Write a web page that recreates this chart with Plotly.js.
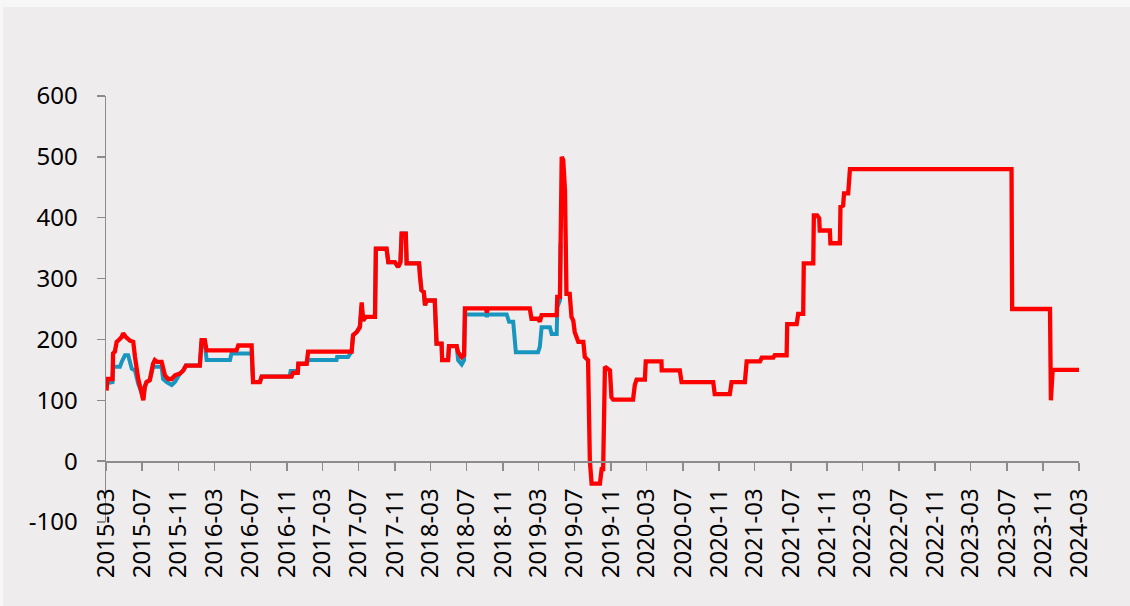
<!DOCTYPE html>
<html>
<head>
<meta charset="utf-8">
<script src="https://cdn.plot.ly/plotly-3.0.1.min.js"></script>
<style>
  html, body { margin: 0; padding: 0; background: #f7f7f7; width: 1130px; height: 606px; overflow: hidden; }
  #chart { position: absolute; left: 3px; top: 7px; width: 1127px; height: 599px; }
</style>
</head>
<body>
<div id="chart"></div>
<script>
// Red series (change points)
const redDates = [
  "2015-03-03","2015-03-05","2015-03-23","2015-03-25","2015-03-31","2015-04-06","2015-04-11","2015-04-23","2015-04-28","2015-05-07",
  "2015-05-21","2015-06-01","2015-06-07","2015-06-18","2015-06-29","2015-07-05","2015-07-10","2015-07-16","2015-07-27","2015-08-02",
  "2015-08-07","2015-08-13","2015-08-21","2015-09-05","2015-09-10","2015-09-16","2015-09-27","2015-10-09","2015-10-20","2015-11-06",
  "2015-11-17","2015-11-26","2016-01-12","2016-01-18","2016-01-29","2016-02-04","2016-05-15","2016-05-21","2016-07-05","2016-07-10",
  "2016-08-02","2016-08-08","2016-11-17","2016-11-22","2016-12-08","2016-12-10","2017-01-07","2017-01-12","2017-06-08","2017-06-13",
  "2017-06-25","2017-07-06","2017-07-12","2017-07-17","2017-07-26","2017-08-26","2017-08-29","2017-10-04","2017-10-10","2017-11-01",
  "2017-11-12","2017-11-20","2017-11-24","2017-12-08","2017-12-11","2018-01-22","2018-01-25","2018-01-30","2018-02-07","2018-02-11",
  "2018-02-16","2018-03-16","2018-03-22","2018-04-08","2018-04-10","2018-04-30","2018-05-03","2018-05-29","2018-06-03","2018-06-15",
  "2018-06-23","2018-06-26","2018-09-05","2018-09-08","2018-09-11","2019-01-31","2019-02-06","2019-02-28","2019-03-06","2019-03-12",
  "2019-05-02","2019-05-04","2019-05-13","2019-05-15","2019-05-19","2019-05-24","2019-05-30","2019-06-04","2019-06-15","2019-06-21",
  "2019-06-27","2019-07-02","2019-07-14","2019-07-31","2019-08-05","2019-08-16","2019-08-22","2019-08-28","2019-09-25","2019-10-01",
  "2019-10-06","2019-10-12","2019-10-29","2019-11-03","2019-11-09","2020-01-15","2020-01-21","2020-01-27","2020-02-24","2020-02-27",
  "2020-04-20","2020-04-21","2020-06-21","2020-06-27","2020-10-12","2020-10-17","2020-12-07","2020-12-13","2021-01-27","2021-02-02",
  "2021-03-19","2021-03-25","2021-05-03","2021-05-08","2021-06-17","2021-06-19","2021-07-21","2021-07-26","2021-08-12","2021-08-14",
  "2021-09-15","2021-09-17","2021-09-28","2021-10-05","2021-10-07","2021-11-10","2021-11-12","2021-12-14","2021-12-16","2021-12-25",
  "2021-12-28","2022-01-11","2022-01-17","2023-07-17","2023-07-19","2023-11-24","2023-11-27","2023-12-03","2024-03-01"
];
const redValues = [
  116,135,135,177,180,196,198,204,210,204,
  198,196,171,135,113,100,122,130,133,149,
  160,166,163,163,149,141,135,135,141,144,
  149,157,157,199,199,182,182,190,190,130,
  130,139,139,145,145,160,160,180,180,207,
  212,220,261,231,237,237,349,349,327,327,
  319,327,374,374,325,325,303,281,278,256,
  264,264,193,193,166,166,189,189,179,171,
  174,251,251,244,251,251,234,234,229,240,
  240,270,270,358,500,495,445,275,275,237,
  231,212,196,196,171,166,1,-37,-37,-13,
  -13,155,149,105,101,101,125,134,134,164,
  164,149,149,130,130,110,110,130,130,164,
  164,170,170,174,174,225,225,242,242,325,
  325,404,404,399,379,379,358,358,418,420,
  440,440,480,480,250,250,100,150,150
];

// Blue series (visible where it differs from the red one)
const blueDates = [
  "2015-03-03","2015-03-23","2015-03-25","2015-04-17","2015-04-23","2015-05-04","2015-05-15","2015-05-21","2015-05-27","2015-06-07",
  "2015-06-18","2015-06-29","2015-07-05","2015-07-10","2015-07-16","2015-07-27","2015-08-02","2015-08-07","2015-09-05","2015-09-10",
  "2015-09-22","2015-10-09","2015-10-20","2015-11-06","2015-11-17","2015-11-26","2016-01-12","2016-01-18","2016-01-29","2016-02-04",
  "2016-04-23","2016-04-28","2016-07-05","2016-07-10","2016-08-02","2016-08-08","2016-11-10","2016-11-14","2016-12-08","2016-12-10",
  "2017-01-07","2017-01-12","2017-04-18","2017-04-20","2017-05-27","2017-06-08","2017-06-13","2017-06-25","2017-07-06","2017-07-12",
  "2017-07-17","2017-07-26","2017-08-26","2017-08-29","2017-10-04","2017-10-10","2017-11-01","2017-11-12","2017-11-20","2017-11-24",
  "2017-12-08","2017-12-11","2018-01-22","2018-01-25","2018-01-30","2018-02-07","2018-02-11","2018-02-16","2018-03-16","2018-03-22",
  "2018-04-08","2018-04-10","2018-04-30","2018-05-03","2018-05-29","2018-06-03","2018-06-15","2018-06-23","2018-06-26","2018-09-05",
  "2018-09-08","2018-09-11","2018-11-14","2018-11-22","2018-12-06","2018-12-15","2019-02-28","2019-03-06","2019-03-12","2019-04-09",
  "2019-04-15","2019-05-02","2019-05-04","2019-05-13","2019-05-15"
];
const blueValues = [
  128,130,155,155,163,174,174,160,152,149,
  127,113,102,122,130,133,149,155,155,135,
  130,125,130,144,149,157,157,194,194,166,
  166,177,177,130,130,139,139,148,148,160,
  160,166,166,171,171,180,207,212,222,255,
  231,237,237,349,349,327,327,319,327,374,
  374,325,325,303,281,278,256,264,264,193,
  193,166,166,189,189,166,159,166,241,241,
  237,241,241,229,229,179,179,188,220,220,
  209,209,253,264,358
];

const yTickVals = [-100, 0, 100, 200, 300, 400, 500, 600];

const axisGray = '#8c8c8c';
const tickFont = { family: 'Noto Sans, Open Sans, sans-serif', size: 24, color: '#000000' };

const traces = [
  {
    x: blueDates, y: blueValues, type: 'scatter', mode: 'lines',
    line: { color: '#1896bf', width: 4, shape: 'linear' },
    hoverinfo: 'x+y', showlegend: false
  },
  {
    x: redDates, y: redValues, type: 'scatter', mode: 'lines',
    line: { color: '#ff0000', width: 4.3, shape: 'linear' },
    hoverinfo: 'x+y', showlegend: false
  }
];

const layout = {
  width: 1127, height: 599,
  margin: { l: 103, r: 51, t: 89, b: 84, pad: 0 },
  paper_bgcolor: '#eeeced',
  plot_bgcolor: 'rgba(0,0,0,0)',
  showlegend: false,
  xaxis: {
    type: 'date',
    range: ['2015-03-01', '2024-03-01'],
    tick0: '2015-03-01', dtick: 'M4', tickformat: '%Y-%m',
    tickangle: -90,
    anchor: 'free', position: 100 / 700,
    showline: true, linecolor: axisGray, linewidth: 1.5,
    ticks: 'outside', ticklen: 8, tickwidth: 1.5, tickcolor: axisGray,
    ticklabelstandoff: 8,
    showgrid: false, zeroline: false,
    tickfont: tickFont
  },
  yaxis: {
    range: [-100, 600],
    tickvals: yTickVals,
    ticktext: yTickVals.map(String),
    showline: true, linecolor: axisGray, linewidth: 1.5,
    ticks: 'outside', ticklen: 8, tickwidth: 1.5, tickcolor: axisGray,
    ticklabelstandoff: 14,
    showgrid: false, zeroline: false,
    tickfont: tickFont
  }
};

Plotly.newPlot('chart', traces, layout, { displayModeBar: false, staticPlot: true });
</script>
</body>
</html>
